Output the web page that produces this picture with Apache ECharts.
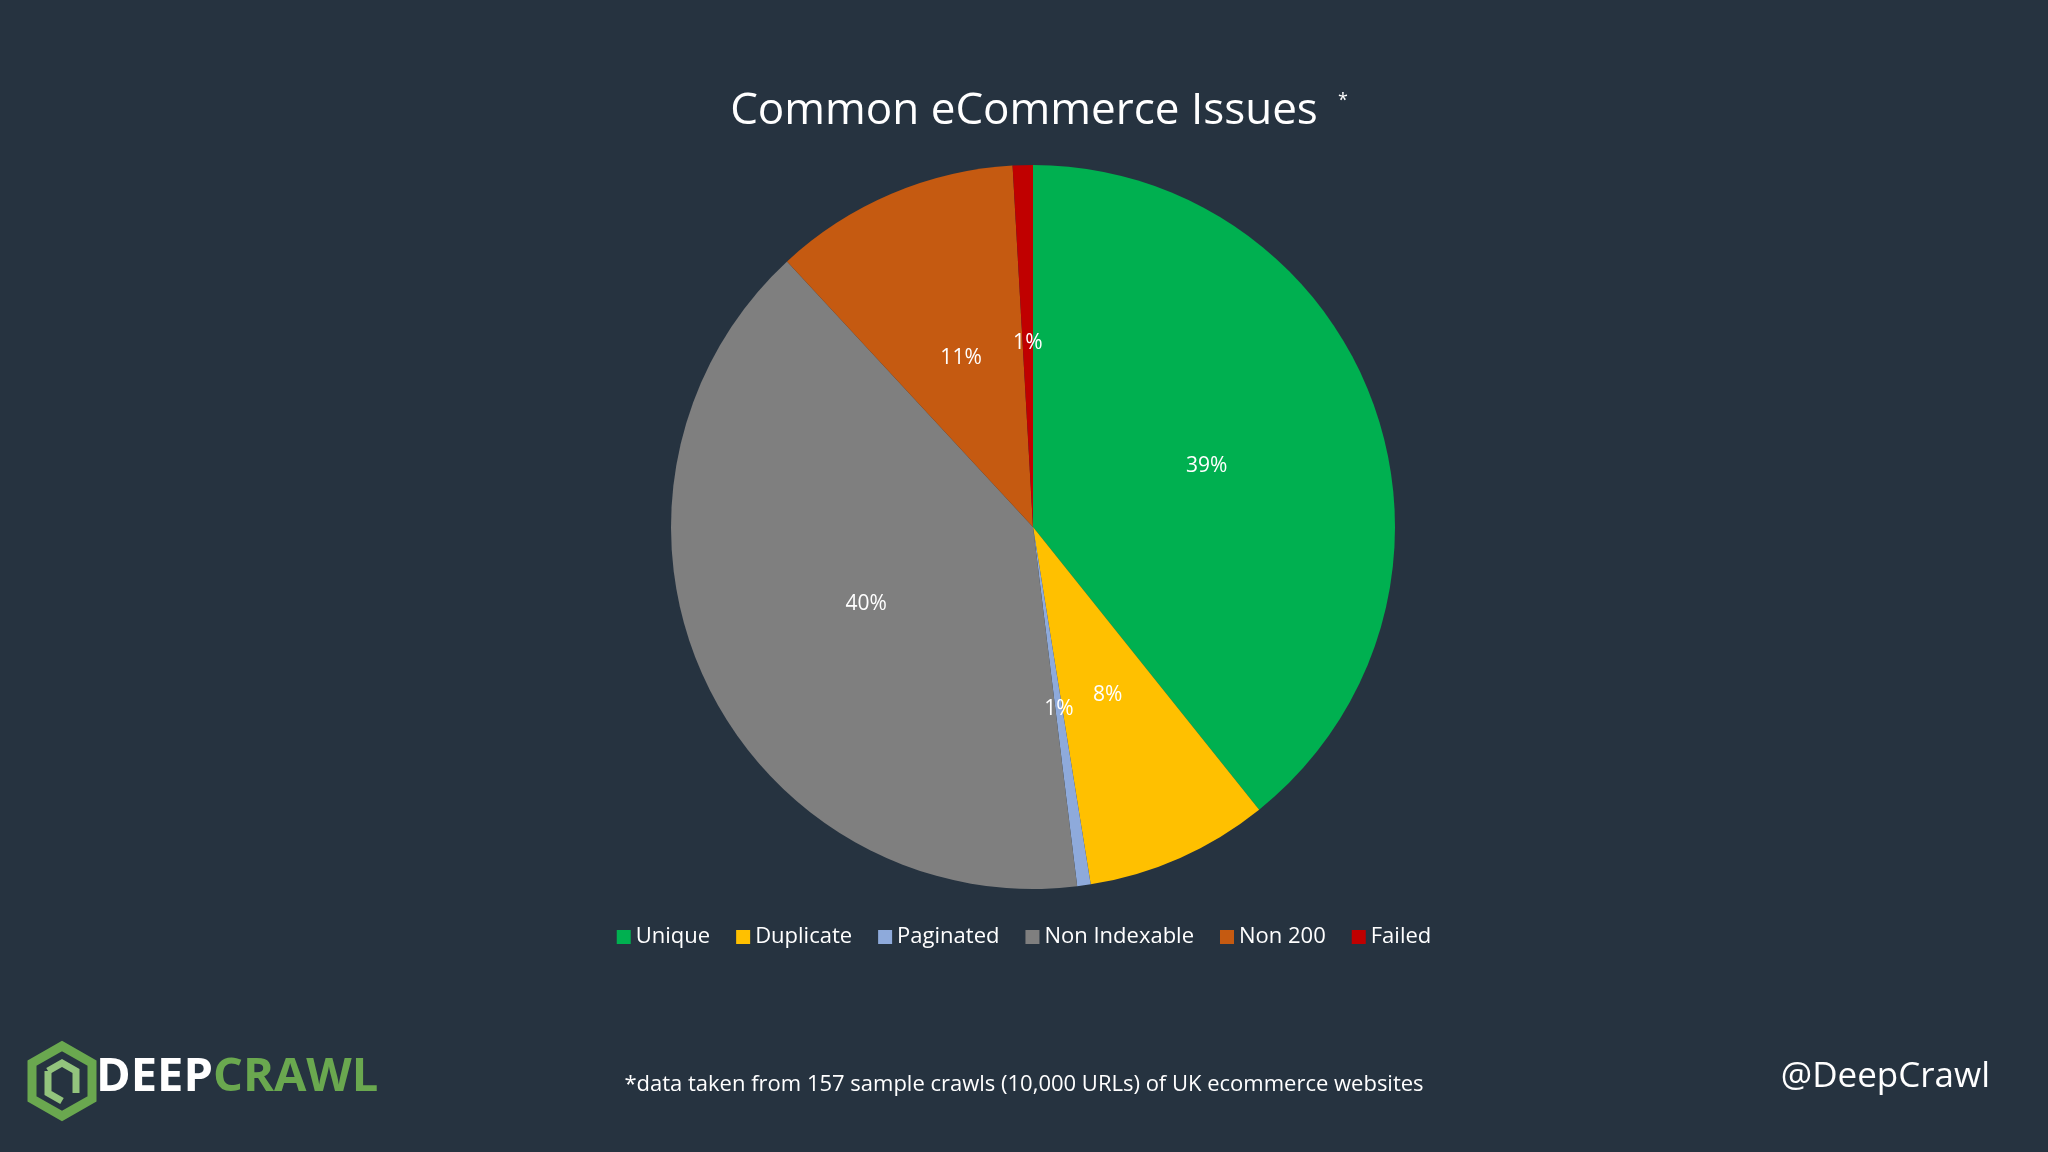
<!DOCTYPE html>
<html><head><meta charset="utf-8">
<script src="https://cdn.jsdelivr.net/npm/echarts@6/dist/echarts.min.js"></script>
<style>html,body{margin:0;padding:0;background:#263340}#c{width:2048px;height:1152px}</style>
</head><body><div id="c"></div>
<script>
const categories=['Unique','Duplicate','Paginated','Non Indexable','Non 200','Failed'];
const values=[39.3,8.2,0.6,40.1,11.0,0.9];
const colors=['#00b050','#ffc000','#8eaadb','#7f7f7f','#c55a11','#c00000'];
const F='"Open Sans", Lato, sans-serif';
const chart=echarts.init(document.getElementById('c'));
chart.setOption({
 backgroundColor:'#263340',
 title:{text:'Common eCommerce Issues',left:'center',top:84,textStyle:{color:'#fff',fontSize:44,fontWeight:'normal',fontFamily:F}},
 legend:{data:categories,bottom:199,left:'center',itemWidth:14,itemHeight:14,itemGap:26,icon:'rect',
   textStyle:{color:'#fff',fontSize:22,fontFamily:F}},
 series:[{type:'pie',center:[1033,527],radius:[0,362],startAngle:90,clockwise:true,
   itemStyle:{borderColor:'#263340',borderWidth:0},
   label:{position:'inside',color:'#fff',fontSize:21,fontFamily:F,formatter:p=>Math.round(p.value)+'%'},
   labelLine:{show:false},
   data:categories.map((n,i)=>({name:n,value:values[i],itemStyle:{color:colors[i]}}))}],
 graphic:[
  {type:'text',left:1338,top:92,style:{text:'*',fill:'#fff',font:'18px '+F}},
  {type:'text',left:'center',top:1074,style:{text:'*data taken from 157 sample crawls (10,000 URLs) of UK ecommerce websites',fill:'#fff',font:'22px '+F}},
  {type:'text',right:58,top:1060,style:{text:'@DeepCrawl',fill:'#fff',font:'35px '+F}},
  {type:'polygon',shape:{points:[[62,1046],[92,1063],[92,1099],[62,1116],[32,1099],[32,1063]]},style:{fill:'none',stroke:'#6aa84f',lineWidth:9}},
  {type:'polyline',shape:{points:[[48,1071],[62,1063],[76,1071],[76,1093]]},style:{fill:'none',stroke:'#93c47d',lineWidth:7}},
  {type:'polyline',shape:{points:[[48,1071],[48,1093],[62,1101]]},style:{fill:'none',stroke:'#93c47d',lineWidth:7}},
  {type:'text',left:96,top:1054,style:{rich:{a:{fill:'#fff',font:'bold 47px '+F},b:{fill:'#6aa84f',font:'bold 47px '+F}},text:'{a|DEEP}{b|CRAWL}'}}
 ]
});
</script></body></html>
